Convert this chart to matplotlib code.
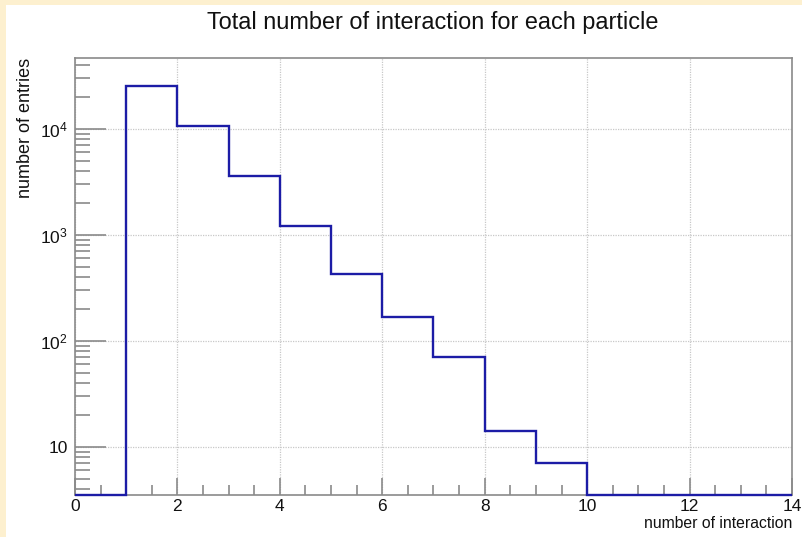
import numpy as np
import matplotlib
matplotlib.use("Agg")
import matplotlib.pyplot as plt
from matplotlib.ticker import FixedLocator, LogLocator, MultipleLocator, NullFormatter, FixedFormatter

plt.rcParams["font.family"] = ["Liberation Sans", "DejaVu Sans"]
plt.rcParams["mathtext.fontset"] = "custom"
plt.rcParams["mathtext.rm"] = "Liberation Sans"
plt.rcParams["mathtext.it"] = "Liberation Sans"
plt.rcParams["mathtext.default"] = "regular"

# Histogram contents: number of interactions per particle
bin_edges = np.arange(0, 15, 1)
counts = np.array([0, 25600, 10700, 3580, 1210, 427, 166, 70, 14, 7, 0, 0, 0, 0])

title = "Total number of interaction for each particle"
xlabel = "number of interaction"
ylabel = "number of entries"
ytick_values = [10, 100, 1000, 10000]
ytick_labels = ["10", r"$10^{2}$", r"$10^{3}$", r"$10^{4}$"]

y_min, y_max = 3.5, 46800
line_color = "#1c1ca6"
axis_gray = "#8a8a8a"

W, H = 802, 537
fig = plt.figure(figsize=(W / 100, H / 100), dpi=100)
fig.patch.set_facecolor("#fdf0cf")
# white canvas inside the cream frame
fig.add_artist(plt.Rectangle((6 / W, 0), 1, (H - 5) / H, transform=fig.transFigure,
                             facecolor="white", edgecolor="none", zorder=0))

ax = fig.add_axes([75 / W, (H - 495) / H, (792 - 75) / W, (495 - 58) / H])
ax.set_facecolor("white")
ax.set_yscale("log")
ax.set_xlim(0, 14)
ax.set_ylim(y_min, y_max)

# empty bins sit on the bottom of the frame
drawn = np.where(counts > 0, counts, y_min)
ax.stairs(drawn, bin_edges, baseline=None, color=line_color, linewidth=1.7,
          clip_on=False, zorder=3)

# axes styling
for s in ax.spines.values():
    s.set_color(axis_gray)
    s.set_linewidth(1.2)

ax.xaxis.set_major_locator(MultipleLocator(2))
ax.xaxis.set_minor_locator(MultipleLocator(0.5))
ax.yaxis.set_major_locator(FixedLocator(ytick_values))
ax.yaxis.set_major_formatter(FixedFormatter(ytick_labels))
ax.yaxis.set_minor_locator(LogLocator(base=10, subs=np.arange(2, 10)))
ax.yaxis.set_minor_formatter(NullFormatter())

ax.tick_params(axis="both", which="both", direction="in", color=axis_gray, width=1.2,
               labelsize=12.5, labelcolor="#111111")
ax.tick_params(axis="x", which="major", length=12, pad=3)
ax.tick_params(axis="x", which="minor", length=7)
ax.tick_params(axis="y", which="major", length=22, pad=5)
ax.tick_params(axis="y", which="minor", length=11)
ax.tick_params(top=False, right=False, which="both")

ax.grid(True, which="major", linestyle=(0, (1, 1)), color="#c8c8c8", linewidth=0.9)
ax.set_axisbelow(True)

ax.set_xlabel(xlabel, fontsize=11.3, loc="right", color="#111111")
ax.set_ylabel(ylabel, fontsize=13, loc="top", color="#111111")
ax.xaxis.set_label_coords(1.0, -(516 - 495) / 437)
ax.yaxis.set_label_coords(-(75 - 34) / 717, 1.0)

fig.text(433 / W, 1 - 22.5 / H, title, ha="center", va="center", fontsize=16.9,
         color="#111111")

fig.savefig("out.png", dpi=100, facecolor=fig.get_facecolor())
